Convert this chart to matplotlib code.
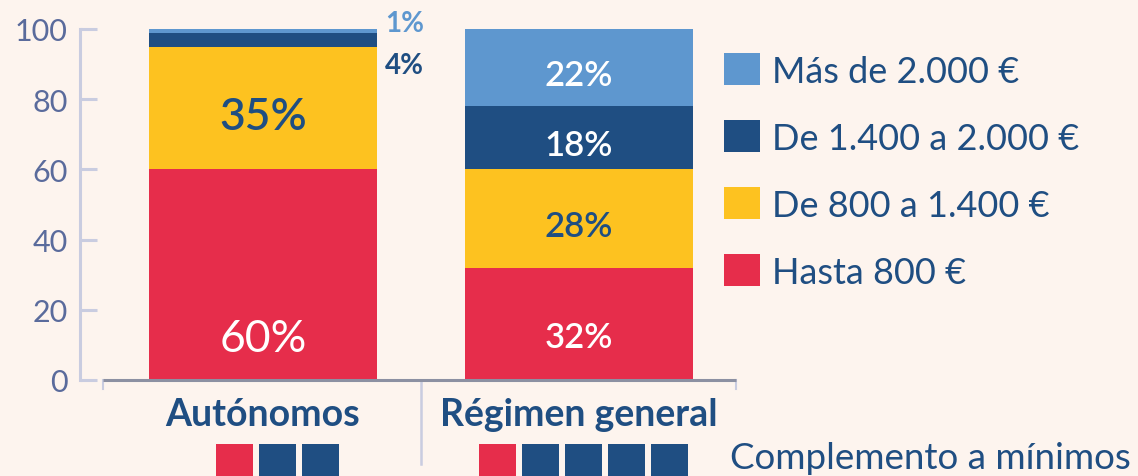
import matplotlib
matplotlib.use("Agg")
import matplotlib.pyplot as plt
from matplotlib.patches import Patch, Rectangle
from matplotlib.transforms import blended_transform_factory
import numpy as np

# ---- data ----
categories = ["Autónomos", "Régimen general"]
series_names = ["Hasta 800 €", "De 800 a 1.400 €", "De 1.400 a 2.000 €", "Más de 2.000 €"]
hasta_800 = [60, 32]
de_800_1400 = [35, 28]
de_1400_2000 = [4, 18]
mas_2000 = [1, 22]
complement_red = [1, 1]
complement_blue = [2, 4]
yticks = [0, 20, 40, 60, 80, 100]

# ---- style ----
BG = "#FDF4EE"
RED = "#E62D4B"
YEL = "#FDC220"
DBLUE = "#1F4E82"
LBLUE = "#5E97CF"
TICKC = "#5A6B9C"
AXC = "#C9CCE0"
BASEC = "#8C90A2"
colors = [RED, YEL, DBLUE, LBLUE]
label_colors = [["white", "white"], [DBLUE, DBLUE], [DBLUE, "white"], [LBLUE, "white"]]
FONT = "Lato"

W, H = 1138, 477
fig = plt.figure(figsize=(W / 100, H / 100), dpi=100, facecolor=BG)

def fx(px):
    return px / W

def fy(py):
    return 1 - py / H

ax_l, ax_r, ax_t, ax_b = 80, 736, 30, 381
ax = fig.add_axes([fx(ax_l), fy(ax_b), fx(ax_r - ax_l), fy(ax_t) - fy(ax_b)])
ax.set_facecolor("none")

c0, c1 = 263, 579
unit = c1 - c0
ax.set_xlim(-(c0 - ax_l) / unit, (ax_r - c0) / unit)
ax.set_ylim(0, 100)

x = np.arange(len(categories))
bw = 228 / unit
series = [hasta_800, de_800_1400, de_1400_2000, mas_2000]
bottom = np.zeros(len(categories))
handles = []
for si, (vals, col) in enumerate(zip(series, colors)):
    vals = np.array(vals, dtype=float)
    ax.bar(x, vals, bw, bottom=bottom, color=col, linewidth=0, zorder=2)
    handles.append(Patch(facecolor=col, edgecolor="none", label=series_names[si]))
    for ci in range(len(categories)):
        v = vals[ci]
        mid = bottom[ci] + v / 2
        txt = f"{int(v)}%"
        lc = label_colors[si][ci]
        if v < 5:
            dy_px = -25 if si == 2 else 8
            ax.annotate(txt, (x[ci] + bw / 2, mid), xytext=(6, dy_px * 0.72),
                        textcoords="offset points", ha="left", va="center",
                        fontsize=20, fontweight="bold", color=lc,
                        family=FONT, annotation_clip=False)
        else:
            ypos = bottom[ci] + 13.0 if si == 0 else mid - 1.3
            fs = 32 if ci == 0 else 25
            fw = "normal" if (ci == 0 and si == 0) else "semibold"
            ax.text(x[ci], ypos, txt, ha="center", va="center_baseline", fontsize=fs,
                    fontweight=fw, color=lc, family=FONT, zorder=3)
    bottom += vals

# axes styling
for s in ["top", "right", "bottom"]:
    ax.spines[s].set_visible(False)
ax.spines["left"].set_color(AXC)
ax.spines["left"].set_linewidth(2.2)
ax.set_yticks(yticks)
ax.tick_params(axis="y", direction="in", length=12, width=2.2, color=AXC,
               labelsize=22, labelcolor=TICKC, pad=9)
for t in ax.get_yticklabels():
    t.set_family(FONT)
ax.set_xticks(x)
ax.set_xticklabels(categories, fontsize=27, fontweight="bold", color=DBLUE, family=FONT)
ax.tick_params(axis="x", length=0, pad=12)

# baseline and separators
xl = ax.get_xlim()
base_start = xl[0] + (103 - ax_l) / unit
ax.plot([base_start, xl[1]], [0, 0], color=BASEC, lw=2.2, clip_on=False, zorder=4,
        solid_capstyle="butt")
tr = blended_transform_factory(ax.transData, ax.transAxes)
for xv in [base_start, xl[1]]:
    ax.plot([xv, xv], [0, -9 / 351], color=AXC, lw=1.5, transform=tr, clip_on=False)
sep = xl[0] + (421 - ax_l) / unit
ax.plot([sep, sep], [0, -84 / 351], color=AXC, lw=1.8, transform=tr, clip_on=False)

# complement squares
sq = 37 / unit
pitch = 43 / unit
offsets = [14 / unit, 4 / unit]
for ci in range(len(categories)):
    n = complement_red[ci] + complement_blue[ci]
    start = x[ci] - n * pitch / 2 + offsets[ci] + (pitch - sq) / 2
    for k in range(n):
        col = RED if k < complement_red[ci] else DBLUE
        ax.add_patch(Rectangle((start + k * pitch, -0.30), sq, 0.30 - 64 / 351,
                               facecolor=col, edgecolor="none", transform=tr,
                               clip_on=False))
fig.text(fx(730), fy(459), "Complemento a mínimos", ha="left", va="center",
         fontsize=26.5, color=DBLUE, family=FONT)

# legend
leg = fig.legend(handles=handles[::-1], loc="upper left",
                 bbox_to_anchor=(fx(724), fy(54)), frameon=False,
                 prop={"family": FONT, "size": 26},
                 handlelength=1.0, handleheight=1.0, labelspacing=0.9,
                 handletextpad=0.33, borderpad=0, borderaxespad=0)
for t in leg.get_texts():
    t.set_color(DBLUE)

fig.savefig("out.png", dpi=100, facecolor=BG)
